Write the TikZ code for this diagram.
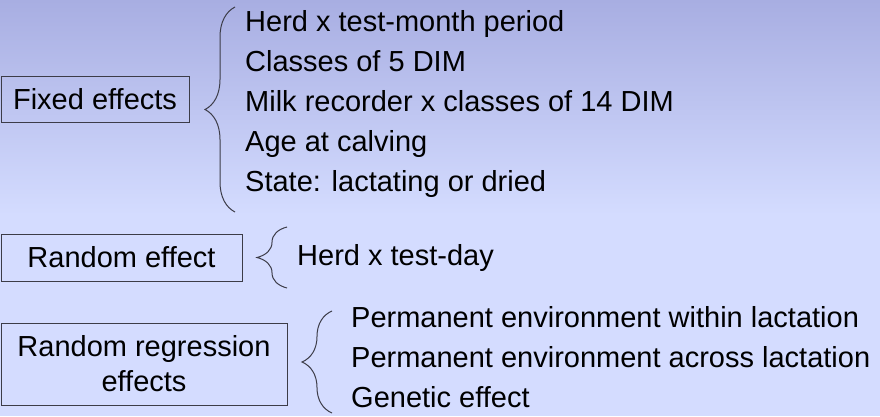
\documentclass[tikz,border=0pt]{standalone}
\usepackage{fontspec}
\setmainfont{Liberation Sans}
\usetikzlibrary{decorations.pathreplacing}
\definecolor{bgtop}{RGB}{168,174,226}
\definecolor{bgbot}{RGB}{212,220,255}
\definecolor{boxline}{RGB}{60,60,72}

\tikzset{
    effbox/.style={draw=boxline, line width=1pt, rectangle, inner sep=0pt, align=center},
    item/.style={anchor=base west, inner sep=0pt},
    brc/.style={draw=boxline, line width=1pt, decorate,
        decoration={brace, amplitude=30pt, aspect=0.5}},
}

\begin{document}
\begin{tikzpicture}[x=1pt, y=-1pt, font=\fontsize{29}{35}\selectfont]
    \newcommand\lsep{40}
    \newcommand\fixx{245}
    \newcommand\regx{351}

    % background
    \fill[bgbot] (0,0) rectangle (880,416);
    \shade[top color=bgtop, bottom color=bgbot] (0,0) rectangle (880,215);
    \useasboundingbox (0,0) rectangle (880,416);

    % boxes
    \node[effbox, minimum width=188pt, minimum height=46pt] (fixed) at (95,99) {Fixed effects};
    \node[effbox, minimum width=241pt, minimum height=47pt] (rand) at (121.5,257.5) {Random effect};
    \node[effbox, minimum width=286pt, minimum height=82pt] (regr) at (144,364) {Random regression\\effects};

    % fixed effects list
    \foreach \txt [count=\i from 0] in {Herd x test-month period, Classes of 5 DIM,
        Milk recorder x classes of 14 DIM, Age at calving, State: lactating or dried}
        \node[item] (fix\i) at (\fixx, 31+\i*\lsep) {\txt};
    \coordinate (fixtop) at (235,7);
    \coordinate (fixbot) at (235,212);
    \draw[brc] (fixbot) -- (fixtop);

    % random effect
    \node[item] (day) at (297,265) {Herd x test-day};
    \coordinate (daytop) at (287,227);
    \coordinate (daybot) at (287,288);
    \draw[brc] (daybot) -- (daytop);

    % random regression list
    \foreach \txt [count=\i from 0] in {Permanent environment within lactation,
        Permanent environment across lactation, Genetic effect}
        \node[item] (reg\i) at (\regx, 327+\i*\lsep) {\txt};
    \coordinate (regtop) at (332,311);
    \coordinate (regbot) at (332,413);
    \draw[brc] (regbot) -- (regtop);
\end{tikzpicture}
\end{document}
